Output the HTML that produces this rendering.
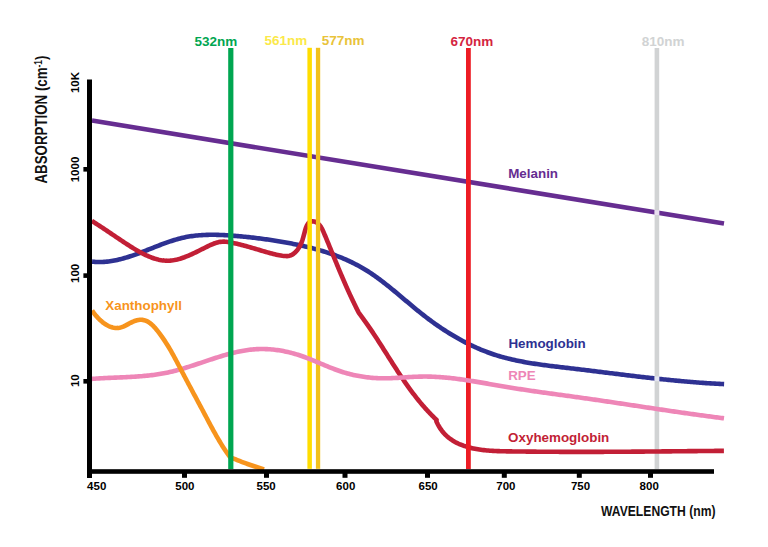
<!DOCTYPE html>
<html><head><meta charset="utf-8"><style>
html,body{margin:0;padding:0;background:#fff;}
body{width:768px;height:547px;overflow:hidden;position:relative;}
svg{position:absolute;left:0;top:0;}
text{font-family:"Liberation Sans",sans-serif;font-weight:bold;}
</style></head><body>
<svg width="768" height="547" viewBox="0 0 768 547">
<path d="M92 120.6 L724 223.5" stroke="#662d91" stroke-width="4.6" fill="none"/>
<path d="M92.06 261.64 L93.58 261.78 L95.10 261.89 L96.61 261.96 L98.11 262.00 L99.62 262.01 L101.11 261.99 L102.61 261.94 L104.10 261.85 L105.58 261.74 L107.06 261.60 L108.54 261.43 L110.01 261.24 L111.48 261.02 L112.94 260.78 L114.40 260.52 L115.86 260.23 L117.32 259.92 L118.77 259.59 L120.22 259.24 L121.66 258.87 L123.11 258.48 L124.55 258.08 L125.99 257.66 L127.42 257.22 L128.86 256.77 L130.29 256.31 L131.72 255.83 L133.15 255.35 L134.58 254.85 L136.00 254.34 L137.42 253.82 L138.85 253.29 L140.27 252.76 L141.69 252.22 L143.11 251.67 L144.53 251.12 L145.94 250.57 L147.36 250.01 L148.78 249.45 L150.20 248.89 L151.61 248.33 L153.03 247.77 L154.44 247.21 L155.86 246.66 L157.28 246.10 L158.70 245.55 L160.11 245.01 L161.53 244.47 L162.95 243.94 L164.37 243.42 L165.80 242.91 L167.22 242.40 L168.64 241.91 L170.07 241.43 L171.50 240.96 L172.93 240.50 L174.36 240.05 L175.79 239.63 L177.23 239.21 L178.67 238.82 L180.11 238.44 L181.55 238.08 L182.99 237.74 L184.44 237.42 L185.89 237.12 L187.35 236.84 L188.80 236.58 L190.26 236.34 L191.72 236.12 L193.19 235.92 L194.65 235.74 L196.12 235.58 L197.59 235.43 L199.07 235.30 L200.54 235.18 L202.02 235.09 L203.50 235.00 L204.98 234.93 L206.46 234.88 L207.95 234.84 L209.44 234.81 L210.92 234.79 L212.41 234.79 L213.90 234.80 L215.40 234.82 L216.89 234.85 L218.38 234.89 L219.88 234.94 L221.37 235.00 L222.87 235.07 L224.37 235.15 L225.87 235.23 L227.37 235.32 L228.87 235.42 L230.37 235.52 L231.87 235.63 L233.37 235.75 L234.87 235.86 L236.37 235.99 L237.87 236.12 L239.37 236.25 L240.87 236.39 L242.38 236.53 L243.88 236.67 L245.38 236.82 L246.88 236.98 L248.38 237.14 L249.88 237.30 L251.38 237.47 L252.88 237.64 L254.38 237.81 L255.88 237.99 L257.38 238.18 L258.88 238.37 L260.38 238.56 L261.88 238.76 L263.38 238.96 L264.88 239.17 L266.38 239.38 L267.88 239.59 L269.37 239.81 L270.87 240.04 L272.37 240.26 L273.86 240.49 L275.36 240.73 L276.85 240.97 L278.34 241.22 L279.84 241.46 L281.33 241.72 L282.82 241.97 L284.31 242.23 L285.80 242.50 L287.29 242.77 L288.78 243.05 L290.26 243.33 L291.75 243.61 L293.23 243.90 L294.71 244.20 L296.19 244.50 L297.67 244.81 L299.15 245.12 L300.62 245.44 L302.09 245.76 L303.56 246.09 L305.03 246.43 L306.49 246.78 L307.96 247.13 L309.42 247.48 L310.87 247.85 L312.33 248.22 L313.78 248.60 L315.23 248.99 L316.68 249.38 L318.12 249.79 L319.56 250.20 L320.99 250.62 L322.42 251.04 L323.85 251.48 L325.28 251.92 L326.70 252.37 L328.11 252.84 L329.53 253.31 L330.94 253.79 L332.34 254.28 L333.74 254.77 L335.14 255.28 L336.53 255.80 L337.91 256.33 L339.29 256.87 L340.67 257.42 L342.04 257.97 L343.41 258.54 L344.77 259.12 L346.13 259.71 L347.48 260.32 L348.82 260.93 L350.16 261.55 L351.50 262.19 L352.83 262.84 L354.15 263.49 L355.46 264.17 L356.77 264.85 L358.08 265.54 L359.38 266.25 L360.67 266.97 L361.95 267.70 L363.23 268.45 L364.50 269.21 L365.77 269.98 L367.03 270.76 L368.28 271.56 L369.52 272.37 L370.76 273.19 L372.00 274.01 L373.23 274.85 L374.45 275.71 L375.67 276.57 L376.89 277.44 L378.10 278.31 L379.30 279.20 L380.51 280.10 L381.70 281.00 L382.90 281.91 L384.09 282.83 L385.28 283.75 L386.46 284.69 L387.64 285.62 L388.82 286.57 L390.00 287.51 L391.17 288.47 L392.35 289.43 L393.52 290.39 L394.69 291.35 L395.85 292.32 L397.02 293.29 L398.19 294.27 L399.35 295.25 L400.52 296.22 L401.68 297.20 L402.85 298.19 L404.01 299.17 L405.17 300.15 L406.34 301.13 L407.51 302.11 L408.67 303.10 L409.84 304.08 L411.01 305.05 L412.18 306.03 L413.36 307.00 L414.53 307.98 L415.71 308.94 L416.89 309.91 L418.07 310.87 L419.26 311.83 L420.45 312.78 L421.64 313.73 L422.84 314.67 L424.04 315.61 L425.24 316.54 L426.45 317.46 L427.66 318.38 L428.87 319.30 L430.09 320.20 L431.32 321.10 L432.54 322.00 L433.77 322.88 L435.01 323.76 L436.24 324.64 L437.49 325.50 L438.73 326.36 L439.98 327.22 L441.23 328.06 L442.49 328.90 L443.75 329.73 L445.02 330.55 L446.29 331.37 L447.56 332.17 L448.84 332.97 L450.12 333.77 L451.40 334.55 L452.69 335.32 L453.98 336.09 L455.28 336.85 L456.58 337.60 L457.88 338.34 L459.19 339.07 L460.50 339.80 L461.82 340.51 L463.14 341.22 L464.46 341.91 L465.79 342.60 L467.12 343.28 L468.46 343.95 L469.80 344.61 L471.14 345.25 L472.49 345.89 L473.84 346.52 L475.19 347.14 L476.55 347.75 L477.92 348.35 L479.28 348.94 L480.66 349.51 L482.03 350.08 L483.41 350.64 L484.79 351.18 L486.18 351.72 L487.57 352.24 L488.97 352.76 L490.37 353.26 L491.77 353.75 L493.18 354.23 L494.59 354.69 L496.01 355.15 L497.43 355.59 L498.85 356.02 L500.28 356.45 L501.71 356.86 L503.15 357.26 L504.58 357.65 L506.03 358.02 L507.47 358.39 L508.92 358.75 L510.37 359.10 L511.83 359.45 L513.28 359.78 L514.74 360.10 L516.21 360.42 L517.67 360.72 L519.14 361.02 L520.61 361.31 L522.09 361.60 L523.56 361.88 L525.04 362.15 L526.52 362.41 L528.01 362.67 L529.49 362.92 L530.98 363.16 L532.47 363.40 L533.96 363.63 L535.45 363.86 L536.94 364.08 L538.44 364.30 L539.93 364.52 L541.43 364.73 L542.93 364.93 L544.43 365.13 L545.93 365.33 L547.43 365.53 L548.93 365.72 L550.43 365.91 L551.93 366.10 L553.44 366.28 L554.94 366.46 L556.45 366.64 L557.95 366.82 L559.46 367.00 L560.96 367.18 L562.46 367.35 L563.97 367.53 L565.47 367.70 L566.98 367.88 L568.48 368.05 L569.98 368.23 L571.49 368.41 L572.99 368.58 L574.49 368.76 L575.99 368.94 L577.49 369.12 L578.99 369.30 L580.49 369.48 L581.98 369.66 L583.48 369.84 L584.98 370.02 L586.47 370.21 L587.97 370.39 L589.47 370.57 L590.96 370.75 L592.45 370.94 L593.95 371.12 L595.44 371.31 L596.94 371.49 L598.43 371.68 L599.92 371.86 L601.41 372.05 L602.90 372.23 L604.40 372.42 L605.89 372.60 L607.38 372.79 L608.87 372.97 L610.36 373.16 L611.85 373.34 L613.34 373.52 L614.83 373.71 L616.32 373.89 L617.81 374.08 L619.30 374.26 L620.79 374.44 L622.27 374.62 L623.76 374.81 L625.25 374.99 L626.74 375.17 L628.23 375.35 L629.72 375.53 L631.21 375.71 L632.69 375.89 L634.18 376.06 L635.67 376.24 L637.16 376.42 L638.65 376.59 L640.14 376.77 L641.63 376.94 L643.11 377.11 L644.60 377.29 L646.09 377.46 L647.58 377.63 L649.07 377.80 L650.56 377.97 L652.05 378.13 L653.54 378.30 L655.03 378.46 L656.52 378.63 L658.01 378.79 L659.50 378.95 L660.99 379.11 L662.49 379.27 L663.98 379.42 L665.47 379.58 L666.96 379.73 L668.46 379.88 L669.95 380.03 L671.44 380.18 L672.94 380.33 L674.43 380.48 L675.93 380.62 L677.42 380.76 L678.92 380.90 L680.42 381.04 L681.91 381.18 L683.41 381.31 L684.91 381.45 L686.41 381.58 L687.91 381.71 L689.41 381.83 L690.91 381.96 L692.41 382.08 L693.91 382.20 L695.41 382.32 L696.92 382.44 L698.42 382.55 L699.93 382.67 L701.43 382.78 L702.94 382.88 L704.44 382.99 L705.95 383.09 L707.46 383.19 L708.97 383.29 L710.48 383.38 L711.99 383.48 L713.50 383.57 L715.02 383.66 L716.53 383.74 L718.04 383.82 L719.56 383.90 L721.08 383.98 L722.59 384.05 L724.11 384.12" stroke="#2e3192" stroke-width="4.6" fill="none"/>
<rect x="654.6" y="48" width="4.6" height="421" fill="#d1d3d4"/>
<path d="M91.80 220.94 L93.16 221.79 L94.50 222.64 L95.83 223.48 L97.15 224.32 L98.45 225.17 L99.74 226.01 L101.02 226.84 L102.29 227.68 L103.54 228.51 L104.79 229.35 L106.04 230.18 L107.27 231.01 L108.51 231.84 L109.73 232.66 L110.96 233.49 L112.18 234.32 L113.40 235.14 L114.62 235.97 L115.84 236.79 L117.06 237.62 L118.28 238.44 L119.51 239.27 L120.74 240.09 L121.98 240.92 L123.22 241.74 L124.47 242.57 L125.73 243.39 L127.00 244.22 L128.28 245.04 L129.57 245.87 L130.87 246.70 L132.18 247.52 L133.50 248.34 L134.83 249.14 L136.17 249.94 L137.52 250.73 L138.88 251.50 L140.24 252.26 L141.62 253.00 L143.00 253.71 L144.38 254.41 L145.78 255.08 L147.17 255.72 L148.58 256.33 L149.99 256.92 L151.40 257.47 L152.82 257.98 L154.24 258.46 L155.67 258.89 L157.10 259.29 L158.53 259.64 L159.97 259.95 L161.40 260.21 L162.84 260.41 L164.28 260.57 L165.72 260.67 L167.16 260.72 L168.60 260.70 L170.05 260.63 L171.49 260.50 L172.93 260.32 L174.36 260.09 L175.80 259.81 L177.24 259.48 L178.67 259.11 L180.11 258.71 L181.54 258.26 L182.97 257.78 L184.39 257.27 L185.82 256.72 L187.24 256.15 L188.66 255.56 L190.07 254.95 L191.48 254.31 L192.89 253.66 L194.30 253.00 L195.70 252.32 L197.09 251.64 L198.48 250.95 L199.87 250.25 L201.25 249.56 L202.63 248.87 L204.00 248.18 L205.36 247.50 L206.72 246.83 L208.08 246.18 L209.42 245.54 L210.77 244.92 L212.11 244.33 L213.46 243.77 L214.81 243.27 L216.18 242.81 L217.56 242.42 L218.95 242.10 L220.37 241.86 L221.82 241.70 L223.29 241.64 L224.80 241.67 L226.32 241.79 L227.87 241.97 L229.42 242.21 L230.97 242.49 L232.52 242.81 L234.06 243.14 L235.58 243.48 L237.08 243.83 L238.57 244.18 L240.05 244.54 L241.51 244.91 L242.97 245.29 L244.42 245.67 L245.86 246.05 L247.29 246.45 L248.72 246.85 L250.15 247.25 L251.58 247.67 L253.01 248.09 L254.44 248.51 L255.87 248.95 L257.30 249.38 L258.74 249.82 L260.18 250.26 L261.63 250.69 L263.08 251.13 L264.53 251.56 L265.99 251.98 L267.45 252.40 L268.91 252.80 L270.38 253.20 L271.86 253.58 L273.34 253.95 L274.83 254.30 L276.32 254.63 L277.81 254.95 L279.31 255.24 L280.82 255.51 L282.34 255.75 L283.85 255.95 L285.35 256.07 L286.83 256.09 L288.27 255.97 L289.68 255.70 L291.04 255.23 L292.34 254.58 L293.57 253.76 L294.75 252.80 L295.85 251.72 L296.89 250.54 L297.84 249.30 L298.72 248.00 L299.52 246.69 L300.24 245.37 L300.87 244.05 L301.44 242.73 L301.96 241.38 L302.44 240.01 L302.88 238.61 L303.30 237.18 L303.71 235.69 L304.12 234.15 L304.54 232.55 L304.98 230.89 L305.47 229.22 L306.01 227.60 L306.63 226.06 L307.33 224.67 L308.14 223.47 L309.07 222.51 L310.14 221.84 L311.32 221.46 L312.57 221.35 L313.86 221.48 L315.13 221.83 L316.36 222.37 L317.50 223.09 L318.53 223.96 L319.48 224.96 L320.35 226.08 L321.15 227.29 L321.90 228.59 L322.59 229.96 L323.25 231.38 L323.88 232.82 L324.50 234.28 L325.11 235.75 L325.72 237.20 L326.32 238.65 L326.92 240.10 L327.51 241.54 L328.11 242.98 L328.70 244.41 L329.28 245.84 L329.87 247.27 L330.45 248.69 L331.03 250.11 L331.61 251.52 L332.19 252.94 L332.76 254.34 L333.34 255.75 L333.91 257.15 L334.49 258.55 L335.06 259.95 L335.63 261.34 L336.21 262.73 L336.78 264.12 L337.35 265.50 L337.93 266.89 L338.50 268.27 L339.08 269.65 L339.65 271.03 L340.23 272.41 L340.81 273.78 L341.39 275.16 L341.98 276.53 L342.56 277.91 L343.15 279.28 L343.74 280.65 L344.33 282.02 L344.93 283.39 L345.53 284.76 L346.13 286.13 L346.74 287.49 L347.35 288.86 L347.97 290.23 L348.59 291.60 L349.21 292.97 L349.84 294.34 L350.47 295.71 L351.11 297.09 L351.75 298.46 L352.40 299.83 L353.06 301.21 L353.72 302.59 L354.39 303.97 L355.06 305.35 L355.74 306.73 L356.43 308.11 L357.12 309.50 L357.83 310.88 L358.54 312.27 L359.22 313.46 L360.15 314.67 L361.07 315.90 L361.99 317.12 L362.90 318.35 L363.80 319.59 L364.70 320.83 L365.59 322.07 L366.48 323.32 L367.36 324.58 L368.23 325.83 L369.11 327.09 L369.97 328.36 L370.84 329.62 L371.69 330.89 L372.55 332.16 L373.40 333.44 L374.25 334.72 L375.09 336.00 L375.93 337.28 L376.77 338.56 L377.60 339.85 L378.44 341.14 L379.27 342.43 L380.10 343.72 L380.92 345.01 L381.75 346.31 L382.57 347.60 L383.40 348.90 L384.22 350.19 L385.04 351.49 L385.86 352.79 L386.68 354.08 L387.50 355.38 L388.32 356.68 L389.14 357.98 L389.96 359.27 L390.78 360.57 L391.61 361.86 L392.43 363.16 L393.26 364.45 L394.09 365.74 L394.92 367.03 L395.75 368.32 L396.58 369.61 L397.42 370.89 L398.26 372.17 L399.10 373.46 L399.95 374.73 L400.80 376.01 L401.65 377.28 L402.50 378.55 L403.37 379.82 L404.23 381.08 L405.10 382.34 L405.97 383.60 L406.85 384.85 L407.74 386.10 L408.63 387.35 L409.52 388.59 L410.42 389.82 L411.33 391.06 L412.25 392.28 L413.17 393.51 L414.09 394.72 L415.03 395.94 L415.97 397.14 L416.91 398.35 L417.87 399.54 L418.83 400.73 L419.80 401.92 L420.78 403.10 L421.77 404.27 L422.77 405.43 L423.77 406.59 L424.79 407.74 L425.81 408.89 L426.85 410.03 L427.89 411.16 L428.94 412.28 L430.01 413.40 L431.08 414.51 L432.16 415.61 L433.26 416.70 L434.37 417.78 L435.48 418.86 L436.61 419.92 L436.37 421.23 L437.06 422.78 L437.78 424.27 L438.55 425.71 L439.36 427.10 L440.21 428.43 L441.10 429.71 L442.02 430.94 L442.98 432.12 L443.97 433.26 L445.00 434.34 L446.05 435.38 L447.14 436.38 L448.26 437.33 L449.40 438.24 L450.58 439.10 L451.77 439.93 L453.00 440.72 L454.24 441.46 L455.51 442.18 L456.80 442.85 L458.11 443.49 L459.43 444.09 L460.78 444.66 L462.14 445.20 L463.51 445.71 L464.90 446.19 L466.30 446.64 L467.72 447.06 L469.14 447.45 L470.57 447.82 L472.01 448.17 L473.46 448.49 L474.92 448.79 L476.39 449.06 L477.86 449.32 L479.34 449.55 L480.82 449.77 L482.32 449.96 L483.82 450.14 L485.32 450.30 L486.83 450.45 L488.34 450.58 L489.86 450.70 L491.38 450.80 L492.90 450.90 L494.43 450.98 L495.96 451.05 L497.49 451.11 L499.02 451.17 L500.56 451.21 L502.09 451.26 L503.63 451.29 L505.17 451.32 L506.70 451.35 L508.24 451.37 L509.77 451.39 L511.30 451.41 L512.84 451.43 L514.36 451.45 L515.89 451.47 L517.42 451.49 L518.94 451.50 L520.46 451.52 L521.99 451.54 L523.51 451.55 L525.02 451.57 L526.54 451.59 L528.06 451.60 L529.57 451.62 L531.08 451.63 L532.60 451.65 L534.11 451.66 L535.62 451.67 L537.13 451.69 L538.63 451.70 L540.14 451.71 L541.65 451.72 L543.15 451.73 L544.66 451.74 L546.16 451.75 L547.67 451.76 L549.17 451.77 L550.67 451.78 L552.17 451.79 L553.67 451.80 L555.17 451.81 L556.67 451.81 L558.17 451.82 L559.67 451.83 L561.17 451.83 L562.67 451.84 L564.17 451.84 L565.67 451.85 L567.17 451.85 L568.67 451.86 L570.17 451.86 L571.67 451.86 L573.17 451.86 L574.67 451.87 L576.17 451.87 L577.67 451.87 L579.17 451.87 L580.67 451.87 L582.17 451.87 L583.67 451.87 L585.18 451.87 L586.68 451.87 L588.18 451.87 L589.69 451.86 L591.19 451.86 L592.70 451.86 L594.20 451.86 L595.71 451.85 L597.21 451.85 L598.72 451.84 L600.23 451.84 L601.73 451.83 L603.24 451.83 L604.75 451.82 L606.26 451.82 L607.77 451.81 L609.27 451.80 L610.78 451.80 L612.29 451.79 L613.80 451.78 L615.31 451.77 L616.82 451.77 L618.33 451.76 L619.84 451.75 L621.35 451.74 L622.87 451.73 L624.38 451.72 L625.89 451.71 L627.40 451.70 L628.91 451.69 L630.42 451.68 L631.94 451.67 L633.45 451.66 L634.96 451.65 L636.47 451.64 L637.98 451.63 L639.50 451.61 L641.01 451.60 L642.52 451.59 L644.03 451.58 L645.55 451.56 L647.06 451.55 L648.57 451.54 L650.08 451.53 L651.60 451.51 L653.11 451.50 L654.62 451.49 L656.13 451.47 L657.64 451.46 L659.16 451.45 L660.67 451.43 L662.18 451.42 L663.69 451.40 L665.20 451.39 L666.72 451.38 L668.23 451.36 L669.74 451.35 L671.25 451.33 L672.76 451.32 L674.27 451.30 L675.78 451.29 L677.29 451.28 L678.80 451.26 L680.31 451.25 L681.82 451.23 L683.33 451.22 L684.83 451.20 L686.34 451.19 L687.85 451.17 L689.36 451.16 L690.87 451.14 L692.37 451.13 L693.88 451.12 L695.39 451.10 L696.89 451.09 L698.40 451.07 L699.90 451.06 L701.41 451.04 L702.91 451.03 L704.41 451.02 L705.92 451.00 L707.42 450.99 L708.92 450.97 L710.42 450.96 L711.92 450.95 L713.42 450.93 L714.92 450.92 L716.42 450.91 L717.92 450.89 L719.42 450.88 L720.92 450.87 L722.41 450.85 L723.91 450.84" stroke="#c21f36" stroke-width="4.6" fill="none" stroke-linejoin="round"/>
<rect x="307.4" y="47.8" width="4.5" height="421" fill="#ffdd00"/>
<rect x="315.9" y="47.8" width="4.3" height="421" fill="#f2c11c"/>
<rect x="466" y="48" width="4.8" height="421" fill="#ed1c24"/>
<path d="M91.94 378.89 L93.46 378.78 L94.97 378.67 L96.48 378.57 L97.99 378.48 L99.50 378.39 L101.01 378.30 L102.52 378.22 L104.03 378.14 L105.54 378.07 L107.05 377.99 L108.56 377.92 L110.06 377.86 L111.57 377.79 L113.08 377.73 L114.58 377.66 L116.09 377.60 L117.59 377.54 L119.10 377.47 L120.60 377.41 L122.10 377.34 L123.61 377.27 L125.11 377.20 L126.61 377.13 L128.11 377.05 L129.61 376.98 L131.10 376.89 L132.60 376.81 L134.10 376.71 L135.59 376.62 L137.09 376.52 L138.58 376.41 L140.07 376.30 L141.56 376.18 L143.05 376.05 L144.54 375.91 L146.03 375.77 L147.51 375.62 L149.00 375.46 L150.48 375.29 L151.97 375.11 L153.45 374.93 L154.93 374.73 L156.41 374.52 L157.88 374.30 L159.36 374.07 L160.83 373.82 L162.31 373.57 L163.78 373.30 L165.25 373.02 L166.72 372.72 L168.18 372.41 L169.65 372.09 L171.11 371.75 L172.57 371.40 L174.04 371.04 L175.49 370.66 L176.95 370.28 L178.41 369.88 L179.87 369.48 L181.32 369.06 L182.77 368.63 L184.23 368.20 L185.68 367.76 L187.13 367.31 L188.58 366.86 L190.03 366.40 L191.48 365.93 L192.92 365.46 L194.37 364.99 L195.82 364.51 L197.26 364.03 L198.71 363.55 L200.15 363.06 L201.60 362.58 L203.04 362.09 L204.49 361.61 L205.93 361.12 L207.37 360.64 L208.82 360.15 L210.26 359.67 L211.71 359.20 L213.15 358.72 L214.59 358.25 L216.04 357.79 L217.48 357.33 L218.93 356.88 L220.37 356.43 L221.82 355.99 L223.27 355.56 L224.71 355.14 L226.16 354.73 L227.61 354.32 L229.06 353.93 L230.51 353.54 L231.96 353.17 L233.41 352.81 L234.86 352.46 L236.32 352.13 L237.77 351.81 L239.23 351.50 L240.68 351.21 L242.14 350.94 L243.60 350.68 L245.06 350.43 L246.52 350.21 L247.99 350.00 L249.45 349.81 L250.92 349.64 L252.39 349.49 L253.86 349.36 L255.33 349.25 L256.80 349.16 L258.28 349.10 L259.76 349.05 L261.23 349.03 L262.71 349.03 L264.19 349.05 L265.67 349.08 L267.15 349.14 L268.64 349.22 L270.12 349.32 L271.60 349.44 L273.08 349.58 L274.56 349.74 L276.04 349.92 L277.52 350.12 L279.00 350.34 L280.47 350.57 L281.95 350.83 L283.42 351.10 L284.89 351.39 L286.36 351.70 L287.82 352.02 L289.28 352.37 L290.74 352.73 L292.20 353.11 L293.65 353.50 L295.10 353.92 L296.55 354.35 L297.99 354.79 L299.43 355.26 L300.86 355.73 L302.29 356.23 L303.71 356.74 L305.13 357.26 L306.55 357.79 L307.97 358.33 L309.38 358.89 L310.79 359.45 L312.19 360.02 L313.60 360.59 L315.00 361.18 L316.40 361.76 L317.80 362.35 L319.20 362.94 L320.60 363.53 L322.00 364.12 L323.40 364.71 L324.80 365.30 L326.20 365.88 L327.60 366.46 L329.00 367.03 L330.41 367.60 L331.81 368.16 L333.22 368.70 L334.63 369.24 L336.04 369.77 L337.46 370.28 L338.88 370.78 L340.30 371.27 L341.73 371.74 L343.16 372.19 L344.59 372.63 L346.03 373.05 L347.47 373.45 L348.92 373.84 L350.37 374.21 L351.82 374.56 L353.27 374.90 L354.73 375.23 L356.19 375.53 L357.66 375.82 L359.13 376.10 L360.60 376.35 L362.07 376.60 L363.54 376.82 L365.02 377.03 L366.50 377.23 L367.98 377.40 L369.47 377.56 L370.95 377.71 L372.44 377.84 L373.93 377.95 L375.42 378.05 L376.91 378.13 L378.41 378.20 L379.90 378.25 L381.40 378.29 L382.90 378.30 L384.40 378.31 L385.90 378.30 L387.40 378.27 L388.90 378.24 L390.41 378.19 L391.91 378.13 L393.42 378.07 L394.92 377.99 L396.43 377.91 L397.93 377.83 L399.44 377.74 L400.95 377.64 L402.45 377.55 L403.96 377.45 L405.47 377.35 L406.97 377.25 L408.48 377.16 L409.99 377.07 L411.49 376.98 L413.00 376.90 L414.50 376.82 L416.01 376.76 L417.51 376.70 L419.01 376.65 L420.52 376.61 L422.02 376.58 L423.52 376.57 L425.02 376.56 L426.52 376.57 L428.01 376.59 L429.51 376.62 L431.01 376.66 L432.50 376.72 L434.00 376.78 L435.49 376.85 L436.98 376.93 L438.48 377.02 L439.97 377.12 L441.46 377.23 L442.95 377.35 L444.44 377.48 L445.93 377.61 L447.42 377.76 L448.91 377.91 L450.40 378.07 L451.88 378.23 L453.37 378.40 L454.86 378.58 L456.35 378.77 L457.83 378.96 L459.32 379.15 L460.80 379.35 L462.29 379.56 L463.77 379.77 L465.26 379.99 L466.74 380.21 L468.23 380.44 L469.71 380.67 L471.19 380.90 L472.68 381.14 L474.16 381.38 L475.65 381.62 L477.13 381.86 L478.61 382.11 L480.10 382.36 L481.58 382.61 L483.06 382.87 L484.55 383.12 L486.03 383.38 L487.51 383.64 L488.99 383.90 L490.48 384.16 L491.96 384.42 L493.44 384.68 L494.93 384.94 L496.41 385.20 L497.90 385.46 L499.38 385.71 L500.86 385.97 L502.35 386.23 L503.83 386.48 L505.32 386.74 L506.80 386.99 L508.29 387.24 L509.77 387.48 L511.26 387.73 L512.74 387.97 L514.23 388.21 L515.71 388.45 L517.20 388.68 L518.69 388.91 L520.17 389.14 L521.66 389.37 L523.15 389.60 L524.63 389.83 L526.12 390.05 L527.61 390.27 L529.10 390.49 L530.58 390.71 L532.07 390.93 L533.56 391.14 L535.05 391.36 L536.54 391.57 L538.02 391.79 L539.51 392.00 L541.00 392.21 L542.49 392.42 L543.98 392.62 L545.47 392.83 L546.96 393.04 L548.45 393.24 L549.93 393.45 L551.42 393.65 L552.91 393.86 L554.40 394.06 L555.89 394.27 L557.38 394.47 L558.87 394.67 L560.36 394.87 L561.85 395.08 L563.34 395.28 L564.82 395.48 L566.31 395.69 L567.80 395.89 L569.29 396.09 L570.78 396.30 L572.27 396.50 L573.76 396.71 L575.25 396.91 L576.73 397.12 L578.22 397.32 L579.71 397.53 L581.20 397.74 L582.69 397.95 L584.18 398.16 L585.66 398.37 L587.15 398.58 L588.64 398.79 L590.13 399.01 L591.62 399.22 L593.10 399.43 L594.59 399.65 L596.08 399.86 L597.57 400.08 L599.05 400.30 L600.54 400.51 L602.03 400.73 L603.51 400.95 L605.00 401.17 L606.49 401.39 L607.98 401.61 L609.46 401.83 L610.95 402.05 L612.44 402.27 L613.92 402.49 L615.41 402.71 L616.90 402.94 L618.38 403.16 L619.87 403.38 L621.36 403.60 L622.84 403.83 L624.33 404.05 L625.82 404.27 L627.30 404.50 L628.79 404.72 L630.28 404.95 L631.76 405.17 L633.25 405.39 L634.73 405.62 L636.22 405.84 L637.71 406.07 L639.19 406.29 L640.68 406.51 L642.17 406.74 L643.65 406.96 L645.14 407.19 L646.63 407.41 L648.11 407.63 L649.60 407.86 L651.09 408.08 L652.57 408.30 L654.06 408.52 L655.55 408.75 L657.03 408.97 L658.52 409.19 L660.01 409.41 L661.49 409.63 L662.98 409.85 L664.47 410.07 L665.95 410.29 L667.44 410.51 L668.93 410.73 L670.42 410.95 L671.90 411.17 L673.39 411.39 L674.88 411.60 L676.36 411.82 L677.85 412.04 L679.34 412.25 L680.83 412.47 L682.32 412.68 L683.80 412.89 L685.29 413.10 L686.78 413.32 L688.27 413.53 L689.76 413.74 L691.24 413.95 L692.73 414.15 L694.22 414.36 L695.71 414.57 L697.20 414.77 L698.69 414.98 L700.18 415.18 L701.67 415.39 L703.15 415.59 L704.64 415.79 L706.13 415.99 L707.62 416.19 L709.11 416.38 L710.60 416.58 L712.09 416.78 L713.58 416.97 L715.07 417.16 L716.56 417.36 L718.05 417.55 L719.54 417.74 L721.04 417.92 L722.53 418.11 L724.02 418.30" stroke="#ee86b7" stroke-width="4.6" fill="none"/>
<path d="M92.08 310.43 L92.89 311.63 L93.74 312.83 L94.65 314.03 L95.60 315.23 L96.60 316.41 L97.64 317.57 L98.72 318.70 L99.83 319.80 L100.99 320.86 L102.17 321.87 L103.39 322.82 L104.64 323.72 L105.91 324.55 L107.21 325.31 L108.53 325.98 L109.87 326.57 L111.23 327.07 L112.60 327.46 L113.99 327.75 L115.38 327.93 L116.79 327.98 L118.20 327.91 L119.62 327.71 L121.03 327.37 L122.45 326.89 L123.87 326.30 L125.30 325.63 L126.72 324.90 L128.16 324.13 L129.60 323.35 L131.05 322.60 L132.52 321.88 L133.99 321.24 L135.48 320.69 L136.99 320.26 L138.49 319.95 L139.98 319.79 L141.43 319.77 L142.85 319.90 L144.21 320.19 L145.54 320.60 L146.82 321.15 L148.05 321.81 L149.26 322.58 L150.42 323.44 L151.55 324.38 L152.65 325.40 L153.72 326.47 L154.77 327.60 L155.78 328.76 L156.78 329.96 L157.75 331.17 L158.71 332.39 L159.64 333.62 L160.56 334.86 L161.47 336.10 L162.35 337.35 L163.22 338.61 L164.08 339.87 L164.92 341.14 L165.75 342.41 L166.56 343.69 L167.36 344.98 L168.15 346.27 L168.93 347.56 L169.70 348.86 L170.46 350.16 L171.21 351.47 L171.96 352.78 L172.69 354.10 L173.42 355.41 L174.14 356.73 L174.86 358.06 L175.57 359.38 L176.28 360.71 L176.98 362.04 L177.68 363.37 L178.38 364.70 L179.07 366.03 L179.77 367.37 L180.47 368.70 L181.16 370.04 L181.86 371.37 L182.56 372.71 L183.26 374.04 L183.96 375.38 L184.66 376.71 L185.37 378.04 L186.07 379.38 L186.78 380.71 L187.49 382.04 L188.20 383.38 L188.91 384.71 L189.62 386.04 L190.33 387.38 L191.05 388.71 L191.76 390.04 L192.48 391.37 L193.19 392.71 L193.91 394.04 L194.62 395.37 L195.34 396.71 L196.05 398.04 L196.77 399.37 L197.48 400.71 L198.20 402.04 L198.91 403.37 L199.62 404.71 L200.34 406.04 L201.05 407.37 L201.76 408.71 L202.47 410.04 L203.18 411.38 L203.89 412.71 L204.60 414.05 L205.30 415.39 L206.01 416.72 L206.71 418.06 L207.42 419.39 L208.12 420.73 L208.83 422.06 L209.54 423.39 L210.25 424.72 L210.97 426.05 L211.68 427.38 L212.40 428.71 L213.12 430.03 L213.85 431.35 L214.58 432.67 L215.32 433.98 L216.06 435.30 L216.81 436.61 L217.56 437.91 L218.32 439.21 L219.09 440.51 L219.86 441.80 L220.65 443.09 L221.44 444.38 L222.24 445.66 L223.05 446.93 L223.86 448.20 L224.69 449.46 L225.53 450.72 L226.38 451.97 L227.24 453.21 L228.11 454.45 L229.00 455.68 L229.89 456.91 L231.36 457.65 L232.81 458.26 L234.27 458.86 L235.73 459.46 L237.19 460.05 L238.66 460.63 L240.13 461.20 L241.60 461.77 L243.08 462.33 L244.55 462.88 L246.04 463.43 L247.52 463.97 L249.01 464.50 L250.50 465.02 L252.00 465.54 L253.50 466.05 L255.00 466.55 L256.50 467.05 L258.01 467.53 L259.52 468.01 L261.03 468.49 L262.55 468.95 L264.07 469.41" stroke="#f7941d" stroke-width="4.6" fill="none" stroke-linejoin="round"/>
<rect x="228.2" y="48" width="5.2" height="421" fill="#00a651"/>
<rect x="654.6" y="210.2" width="4.6" height="4.8" fill="#e8def0"/>
<rect x="654.6" y="376.4" width="4.6" height="4.8" fill="#e2e4f2"/>
<rect x="87" y="79.5" width="5" height="394.5" fill="#000"/>
<rect x="87" y="469.2" width="627" height="4.6" fill="#000"/>
<rect x="182.0" y="470" width="5" height="7.8" fill="#000"/>
<rect x="264.0" y="470" width="5" height="7.8" fill="#000"/>
<rect x="342.5" y="470" width="5" height="7.8" fill="#000"/>
<rect x="425.0" y="470" width="5" height="7.8" fill="#000"/>
<rect x="501.8" y="470" width="5" height="7.8" fill="#000"/>
<rect x="576.8" y="470" width="5" height="7.8" fill="#000"/>
<rect x="648.0" y="470" width="5" height="7.8" fill="#000"/>
<rect x="87" y="470" width="5" height="8" fill="#000"/>
<rect x="83.4" y="167.0" width="5" height="4.6" fill="#000"/>
<rect x="83.4" y="273.3" width="5" height="4.6" fill="#000"/>
<rect x="83.4" y="379.0" width="5" height="4.6" fill="#000"/>
<text x="194.5" y="45.6" font-size="13.5" fill="#00a651" text-anchor="start" >532nm</text>
<text x="264.5" y="45.4" font-size="13.5" fill="#fbe94a" text-anchor="start" >561nm</text>
<text x="321.8" y="45.4" font-size="13.5" fill="#e9c33a" text-anchor="start" >577nm</text>
<text x="450.4" y="45.6" font-size="13.5" fill="#d42440" text-anchor="start" >670nm</text>
<text x="641.8" y="45.6" font-size="13.5" fill="#d1d3d4" text-anchor="start" >810nm</text>
<text x="508.2" y="178" font-size="13.4" fill="#662d91" text-anchor="start" >Melanin</text>
<text x="508.4" y="347.8" font-size="13.4" fill="#2e3192" text-anchor="start" >Hemoglobin</text>
<text x="508.2" y="379.7" font-size="13.4" fill="#ee86b7" text-anchor="start" >RPE</text>
<text x="508.1" y="441.9" font-size="13.4" fill="#c21f36" text-anchor="start" >Oxyhemoglobin</text>
<text x="105.3" y="310.3" font-size="13.4" fill="#f7941d" text-anchor="start" >Xanthophyll</text>
<text x="96.7" y="490.3" font-size="11.5" fill="#000" text-anchor="middle" >450</text>
<text x="184.85" y="490.3" font-size="11.5" fill="#000" text-anchor="middle" >500</text>
<text x="266.15" y="490.3" font-size="11.5" fill="#000" text-anchor="middle" >550</text>
<text x="345.7" y="490.3" font-size="11.5" fill="#000" text-anchor="middle" >600</text>
<text x="428.1" y="490.3" font-size="11.5" fill="#000" text-anchor="middle" >650</text>
<text x="505.85" y="490.3" font-size="11.5" fill="#000" text-anchor="middle" >700</text>
<text x="580.55" y="490.3" font-size="11.5" fill="#000" text-anchor="middle" >750</text>
<text x="649.2" y="490.3" font-size="11.5" fill="#000" text-anchor="middle" >800</text>
<text transform="translate(79,82.5) rotate(-90)" font-size="11.5" fill="#000" text-anchor="middle">10K</text>
<text transform="translate(79,169.5) rotate(-90)" font-size="11.5" fill="#000" text-anchor="middle">1000</text>
<text transform="translate(79,273.4) rotate(-90)" font-size="11.5" fill="#000" text-anchor="middle">100</text>
<text transform="translate(79,380.7) rotate(-90)" font-size="11.5" fill="#000" text-anchor="middle">10</text>
<text x="601" y="515.8" font-size="14.6" fill="#111" textLength="114.5" lengthAdjust="spacingAndGlyphs">WAVELENGTH (nm)</text>
<text transform="translate(47.4,183.5) rotate(-90)" font-size="15.8" fill="#111" textLength="128" lengthAdjust="spacingAndGlyphs">ABSORPTION (cm<tspan dy="-5.5" font-size="10">-1</tspan><tspan dy="5.5">)</tspan></text>
</svg>
</body></html>
